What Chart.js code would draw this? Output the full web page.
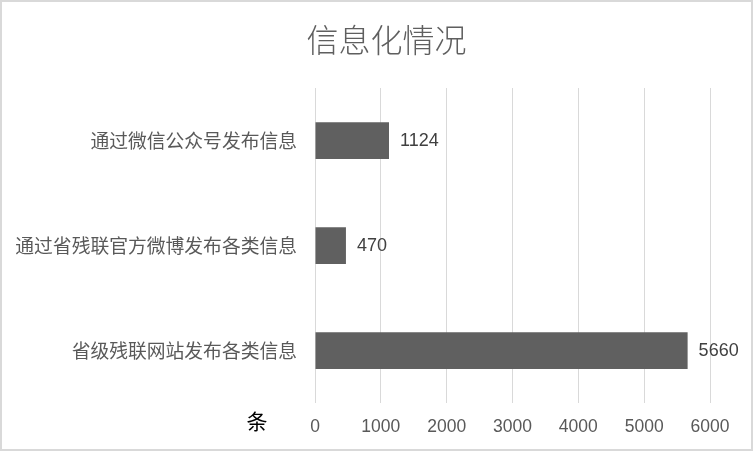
<!DOCTYPE html>
<html>
<head>
<meta charset="utf-8">
<script src="https://cdn.jsdelivr.net/npm/chart.js@4"></script>
<style>
html,body{margin:0;padding:0;background:#fff;}
#wrap{width:753px;height:451px;position:relative;}
</style>
</head>
<body>
<div id="wrap"><canvas id="c" width="753" height="451"></canvas></div>
<script>
const titleText = "信息化情况";
const unitLabel = "条";
const categories = ["通过微信公众号发布信息", "通过省残联官方微博发布各类信息", "省级残联网站发布各类信息"];
const values = [1124, 470, 5660];
const axisMin = 0, axisMax = 6000, axisStep = 1000;

const decor = {
  id: 'decor',
  afterDatasetsDraw(chart) {
    const ctx = chart.ctx;
    const meta = chart.getDatasetMeta(0);
    ctx.save();
    ctx.font = '18px "Liberation Sans"';
    ctx.fillStyle = '#404040';
    ctx.textAlign = 'left';
    ctx.textBaseline = 'middle';
    meta.data.forEach((bar, i) => {
      ctx.fillText(String(values[i]), bar.x + 11, bar.y + 1);
    });
    ctx.font = '21px "Noto Sans CJK SC"';
    ctx.fillStyle = '#000';
    ctx.textAlign = 'center';
    ctx.fillText(unitLabel, 257, 421);
    ctx.font = '300 32px "Noto Sans CJK SC"';
    ctx.fillStyle = '#5f5f5f';
    ctx.fillText(titleText, 386.5, 40);
    ctx.strokeStyle = '#d9d9d9';
    ctx.lineWidth = 2;
    ctx.strokeRect(1, 1, chart.width - 2, chart.height - 2);
    ctx.restore();
  }
};

new Chart(document.getElementById('c'), {
  type: 'bar',
  data: {
    labels: categories,
    datasets: [{
      data: values,
      backgroundColor: '#606060',
      categoryPercentage: 1,
      barPercentage: 0.35
    }]
  },
  options: {
    indexAxis: 'y',
    responsive: false,
    animation: false,
    layout: { padding: { left: 0, right: 43, top: 88, bottom: 0 } },
    plugins: {
      legend: { display: false },
      tooltip: { enabled: false },
      title: { display: false }
    },
    scales: {
      x: {
        min: axisMin, max: axisMax,
        ticks: {
          stepSize: axisStep, color: '#595959',
          font: { family: '"Liberation Sans"', size: 17.5 }, padding: 14,
          callback: (v) => String(v)
        },
        grid: { color: '#d9d9d9', drawTicks: false },
        border: { display: false },
        afterFit(s) { s.height = 48; }
      },
      y: {
        ticks: { color: '#595959', font: { family: '"Noto Sans CJK SC"', size: 18.8 }, padding: 18 },
        grid: { display: false, drawTicks: false },
        border: { display: false },
        afterFit(s) { s.width = 315; }
      }
    }
  },
  plugins: [decor]
});
</script>
</body>
</html>
